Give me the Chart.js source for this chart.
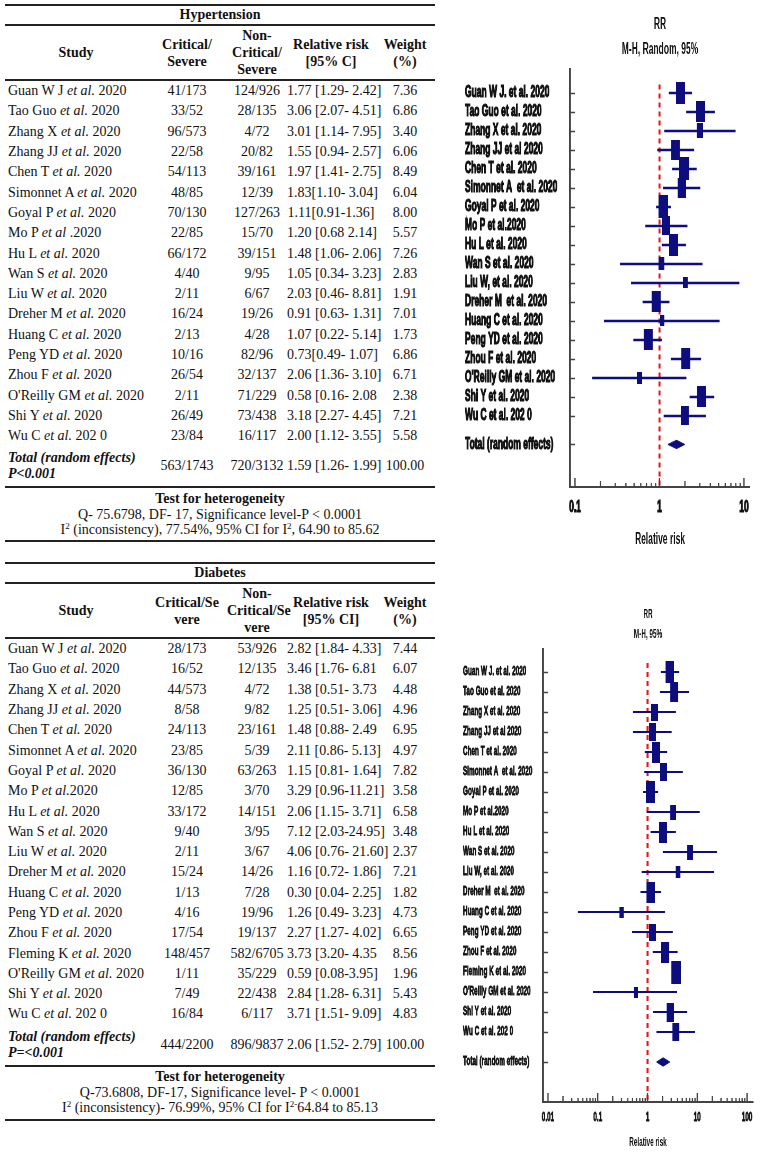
<!DOCTYPE html>
<html>
<head>
<meta charset="utf-8">
<title>Hypertension / Diabetes forest plots</title>
<script src="https://cdn.jsdelivr.net/npm/chart.js@4.4.1/dist/chart.umd.min.js"></script>
<style>
    html, body { margin: 0; padding: 0; background: #fff; }
    body { width: 767px; height: 1154px; position: relative; overflow: hidden; }

    .tbl {
        position: absolute;
        left: 5px;
        width: 430px;
        border-collapse: collapse;
        table-layout: fixed;
        font-family: "Liberation Serif", "Times New Roman", serif;
        color: #111;
    }
    .tbl td, .tbl th { padding: 0; text-align: center; white-space: nowrap; font-size: 14px; }
    .tbl .ttl th { height: 18px; line-height: 18px; border-top: 2px solid #222; border-bottom: 2px solid #222; }
    .tbl .hdr th { height: 53px; line-height: 17px; border-bottom: 2px solid #222; }
    .tbl .row td { height: 20.3px; line-height: 20px; }
    .tbl td.study { text-align: left; padding-left: 3px; }
    .tbl .tot td { height: 40px; border-bottom: 2px solid #222; }
    .tbl .tot td.study { font-weight: bold; font-style: italic; line-height: 16px; }
    .tbl .foot td { height: 52px; line-height: 15.5px; border-bottom: 2px solid #222; }
    .tbl sup { font-size: 9px; line-height: 0; vertical-align: 5px; }

    /* the original plots use a tall, condensed face: draw wide and squeeze horizontally */
    canvas { position: absolute; transform-origin: 0 0; }
</style>
</head>
<body>

<table class="tbl" id="hyperTable" style="top:4px">
    <colgroup><col style="width:142px"><col style="width:80px"><col style="width:60px"><col style="width:88px"><col style="width:60px"></colgroup>
    <tbody></tbody>
</table>

<table class="tbl" id="diabTable" style="top:562px">
    <colgroup><col style="width:142px"><col style="width:80px"><col style="width:60px"><col style="width:88px"><col style="width:60px"></colgroup>
    <tbody></tbody>
</table>

<canvas id="hyperChart"></canvas>
<canvas id="diabChart"></canvas>

<script>
// ---------- Hypertension ----------
const hyperStudies = ['Guan W J et al. 2020', 'Tao Guo et al. 2020', 'Zhang X et al. 2020', 'Zhang JJ et al. 2020',
    'Chen T et al. 2020', 'Simonnet A et al. 2020', 'Goyal P et al. 2020', 'Mo P et al .2020', 'Hu L et al. 2020',
    'Wan S et al. 2020', 'Liu W et al. 2020', 'Dreher M et al. 2020', 'Huang C et al. 2020', 'Peng YD et al. 2020',
    'Zhou F et al. 2020', "O'Reilly GM et al. 2020", 'Shi Y et al. 2020', 'Wu C et al. 202 0'];
const hyperCritical = ['41/173', '33/52', '96/573', '22/58', '54/113', '48/85', '70/130', '22/85', '66/172',
    '4/40', '2/11', '16/24', '2/13', '10/16', '26/54', '2/11', '26/49', '23/84'];
const hyperNonCritical = ['124/926', '28/135', '4/72', '20/82', '39/161', '12/39', '127/263', '15/70', '39/151',
    '9/95', '6/67', '19/26', '4/28', '82/96', '32/137', '71/229', '73/438', '16/117'];
const hyperRRText = ['1.77 [1.29- 2.42]', '3.06 [2.07- 4.51]', '3.01 [1.14- 7.95]', '1.55 [0.94- 2.57]',
    '1.97 [1.41- 2.75]', '1.83[1.10- 3.04]', '1.11[0.91-1.36]', '1.20 [0.68 2.14]', '1.48 [1.06- 2.06]',
    '1.05 [0.34- 3.23]', '2.03 [0.46- 8.81]', '0.91 [0.63- 1.31]', '1.07 [0.22- 5.14]', '0.73[0.49- 1.07]',
    '2.06 [1.36- 3.10]', '0.58 [0.16- 2.08', '3.18 [2.27- 4.45]', '2.00 [1.12- 3.55]'];
const hyperRR = [1.77, 3.06, 3.01, 1.55, 1.97, 1.83, 1.11, 1.20, 1.48, 1.05, 2.03, 0.91, 1.07, 0.73, 2.06, 0.58, 3.18, 2.00];
const hyperLo = [1.29, 2.07, 1.14, 0.94, 1.41, 1.10, 0.91, 0.68, 1.06, 0.34, 0.46, 0.63, 0.22, 0.49, 1.36, 0.16, 2.27, 1.12];
const hyperHi = [2.42, 4.51, 7.95, 2.57, 2.75, 3.04, 1.36, 2.14, 2.06, 3.23, 8.81, 1.31, 5.14, 1.07, 3.10, 2.08, 4.45, 3.55];
const hyperWeight = [7.36, 6.86, 3.40, 6.06, 8.49, 6.04, 8.00, 5.57, 7.26, 2.83, 1.91, 7.01, 1.73, 6.86, 6.71, 2.38, 7.21, 5.58];
const hyperTotal = [1.59, 1.26, 1.99];
const hyperTotalRow = ['563/1743', '720/3132', '1.59 [1.26- 1.99]', '100.00'];
const hyperPlotLabels = ['Guan W J. et al. 2020', 'Tao Guo et al. 2020', 'Zhang X et al. 2020', 'Zhang JJ et al 2020',
    'Chen T et al. 2020', 'Simonnet A  et al. 2020', 'Goyal P et al. 2020', 'Mo P et al.2020', 'Hu L et al. 2020',
    'Wan S et al. 2020', 'Liu W, et al. 2020', 'Dreher M  et al. 2020', 'Huang C et al. 2020', 'Peng YD et al. 2020',
    'Zhou F et al. 2020', "O'Reilly GM et al. 2020", 'Shi Y et al. 2020', 'Wu C et al. 202 0', 'Total (random effects)'];
const hyperTicks = [0.1, 1, 10];

// ---------- Diabetes ----------
const diabStudies = ['Guan W J et al. 2020', 'Tao Guo et al. 2020', 'Zhang X et al. 2020', 'Zhang JJ et al. 2020',
    'Chen T et al. 2020', 'Simonnet A et al. 2020', 'Goyal P et al. 2020', 'Mo P et al.2020', 'Hu L et al. 2020',
    'Wan S et al. 2020', 'Liu W et al. 2020', 'Dreher M et al. 2020', 'Huang C et al. 2020', 'Peng YD et al. 2020',
    'Zhou F et al. 2020', 'Fleming K et al. 2020', "O'Reilly GM et al. 2020", 'Shi Y et al. 2020', 'Wu C et al. 202 0'];
const diabCritical = ['28/173', '16/52', '44/573', '8/58', '24/113', '23/85', '36/130', '12/85', '33/172',
    '9/40', '2/11', '15/24', '1/13', '4/16', '17/54', '148/457', '1/11', '7/49', '16/84'];
const diabNonCritical = ['53/926', '12/135', '4/72', '9/82', '23/161', '5/39', '63/263', '3/70', '14/151',
    '3/95', '3/67', '14/26', '7/28', '19/96', '19/137', '582/6705', '35/229', '22/438', '6/117'];
const diabRRText = ['2.82 [1.84- 4.33]', '3.46 [1.76- 6.81', '1.38 [0.51- 3.73', '1.25 [0.51- 3.06]',
    '1.48 [0.88- 2.49', '2.11 [0.86- 5.13]', '1.15 [0.81- 1.64]', '3.29 [0.96-11.21]', '2.06 [1.15- 3.71]',
    '7.12 [2.03-24.95]', '4.06 [0.76- 21.60]', '1.16 [0.72- 1.86]', '0.30 [0.04- 2.25]', '1.26 [0.49- 3.23]',
    '2.27 [1.27- 4.02]', '3.73 [3.20- 4.35', '0.59 [0.08-3.95]', '2.84 [1.28- 6.31]', '3.71 [1.51- 9.09]'];
const diabRR = [2.82, 3.46, 1.38, 1.25, 1.48, 2.11, 1.15, 3.29, 2.06, 7.12, 4.06, 1.16, 0.30, 1.26, 2.27, 3.73, 0.59, 2.84, 3.71];
const diabLo = [1.84, 1.76, 0.51, 0.51, 0.88, 0.86, 0.81, 0.96, 1.15, 2.03, 0.76, 0.72, 0.04, 0.49, 1.27, 3.20, 0.08, 1.28, 1.51];
const diabHi = [4.33, 6.81, 3.73, 3.06, 2.49, 5.13, 1.64, 11.21, 3.71, 24.95, 21.60, 1.86, 2.25, 3.23, 4.02, 4.35, 3.95, 6.31, 9.09];
const diabWeight = [7.44, 6.07, 4.48, 4.96, 6.95, 4.97, 7.82, 3.58, 6.58, 3.48, 2.37, 7.21, 1.82, 4.73, 6.65, 8.56, 1.96, 5.43, 4.83];
const diabTotal = [2.06, 1.52, 2.79];
const diabTotalRow = ['444/2200', '896/9837', '2.06 [1.52- 2.79]', '100.00'];
const diabPlotLabels = ['Guan W J. et al. 2020', 'Tao Guo et al. 2020', 'Zhang X et al. 2020', 'Zhang JJ et al 2020',
    'Chen T et al. 2020', 'Simonnet A  et al. 2020', 'Goyal P et al. 2020', 'Mo P et al.2020', 'Hu L et al. 2020',
    'Wan S et al. 2020', 'Liu W, et al. 2020', 'Dreher M  et al. 2020', 'Huang C et al. 2020', 'Peng YD et al. 2020',
    'Zhou F et al. 2020', 'Fleming K et al. 2020', "O'Reilly GM et al. 2020", 'Shi Y et al. 2020', 'Wu C et al. 202 0',
    'Total (random effects)'];
const diabTicks = [0.01, 0.1, 1, 10, 100];

const NAVY = '#0d0d7e';
const RED = '#e3191c';
const AXIS = '#444';
const TEXT = '#111';
const PLOT_FONT = "'Liberation Sans', Arial, sans-serif";
const SQUEEZE = 0.53;   // horizontal scale applied to the plot canvases

// ---------- tables ----------
function italicEtAl(name) {
    return name.replace(/et al\.?/, m => '<i>' + m + '</i>');
}

function fillTable(id, t) {
    const body = document.querySelector('#' + id + ' tbody');
    let html = `<tr class="ttl"><th colspan="5">${t.title}</th></tr>`;
    html += `<tr class="hdr">${t.header.map(h => `<th>${h}</th>`).join('')}</tr>`;
    t.studies.forEach((s, i) => {
        html += `<tr class="row"><td class="study">${italicEtAl(s)}</td><td>${t.critical[i]}</td>` +
            `<td>${t.nonCritical[i]}</td><td>${t.rrText[i]}</td><td>${t.weight[i].toFixed(2)}</td></tr>`;
    });
    html += `<tr class="tot"><td class="study">Total (random effects)<br>${t.pText}</td>` +
        t.totalRow.map(v => `<td>${v}</td>`).join('') + '</tr>';
    html += `<tr class="foot"><td colspan="5"><b>Test for heterogeneity</b><br>${t.foot[0]}<br>${t.foot[1]}</td></tr>`;
    body.innerHTML = html;
}

fillTable('hyperTable', {
    title: 'Hypertension',
    header: ['Study', 'Critical/<br>Severe', 'Non-<br>Critical/<br>Severe', 'Relative risk<br>[95% C]', 'Weight<br>(%)'],
    studies: hyperStudies, critical: hyperCritical, nonCritical: hyperNonCritical,
    rrText: hyperRRText, weight: hyperWeight, totalRow: hyperTotalRow, pText: 'P&lt;0.001',
    foot: ['Q- 75.6798, DF- 17, Significance level-P &lt; 0.0001',
        'I<sup>2</sup> (inconsistency), 77.54%, 95% CI for I<sup>2</sup>, 64.90 to 85.62']
});

fillTable('diabTable', {
    title: 'Diabetes',
    header: ['Study', 'Critical/Se<br>vere', 'Non-<br>Critical/Se<br>vere', 'Relative risk<br>[95% CI]', 'Weight<br>(%)'],
    studies: diabStudies, critical: diabCritical, nonCritical: diabNonCritical,
    rrText: diabRRText, weight: diabWeight, totalRow: diabTotalRow, pText: 'P=&lt;0.001',
    foot: ['Q-73.6808, DF-17, Significance level- P &lt; 0.0001',
        'I<sup>2</sup> (inconsistency)- 76.99%, 95% CI for I<sup>2-</sup>64.84 to 85.13']
});

// ---------- forest plots ----------
// small ticks drawn inside the plot area (the axis style of the original)
const innerTicks = {
    id: 'innerTicks',
    afterDatasetsDraw(chart, args, opts) {
        const {ctx, chartArea: a, scales: {x, y}} = chart;
        ctx.save();
        ctx.strokeStyle = AXIS;
        ctx.beginPath();
        ctx.lineWidth = 1.5;
        opts.rows.forEach(v => {
            const py = Math.round(y.getPixelForValue(v)) + 0.5;
            ctx.moveTo(a.left, py);
            ctx.lineTo(a.left + opts.yLen, py);
        });
        ctx.stroke();
        ctx.beginPath();
        ctx.lineWidth = 1.3 / SQUEEZE;
        const first = Math.round(Math.log10(opts.ticks[0]));
        const last = Math.round(Math.log10(opts.ticks[opts.ticks.length - 1]));
        for (let e = first; e <= last; e++) {
            for (let m = 1; m <= 9; m++) {
                if (e === last && m > 1) break;
                const px = x.getPixelForValue(m * Math.pow(10, e));
                const len = m === 1 ? opts.major : (m === 2 ? opts.mid : opts.minor);
                ctx.moveTo(px, a.bottom);
                ctx.lineTo(px, a.bottom - len);
            }
        }
        ctx.stroke();
        ctx.restore();
    }
};

function buildForest(canvasId, p) {
    // page geometry (px on the page) -> canvas units before the squeeze
    const canvas = document.getElementById(canvasId);
    const innerW = Math.round(p.width / SQUEEZE);
    canvas.width = innerW;
    canvas.height = p.height;
    canvas.style.left = p.left + 'px';
    canvas.style.top = p.top + 'px';
    canvas.style.transform = `scaleX(${SQUEEZE})`;
    const padLeft = (p.labelLeft - p.left) / SQUEEZE;
    const yWidth = (p.axisLeft - p.labelLeft) / SQUEEZE;
    const padRight = innerW - (p.axisRight - p.left) / SQUEEZE;

    const rows = p.rr.map((v, i) => i);
    const totalRow = p.rr.length + 0.5;
    const tickRows = rows.concat([totalRow]);

    // CI whiskers as one broken line
    const ciPoints = [];
    p.lo.forEach((lo, i) => {
        ciPoints.push({x: lo, y: i}, {x: p.hi[i], y: i}, {x: null, y: null});
    });

    // weight-sized boxes
    const boxImages = p.weight.map(w => {
        const c = document.createElement('canvas');
        c.width = Math.max(4, Math.round(p.boxW * Math.sqrt(w) / SQUEEZE));
        c.height = Math.round(p.boxH * Math.sqrt(w));
        const g = c.getContext('2d');
        g.fillStyle = NAVY;
        g.fillRect(0, 0, c.width, c.height);
        return c;
    });

    const [tRR, tLo, tHi] = p.total;
    const diamond = [
        {x: tLo, y: totalRow}, {x: tRR, y: totalRow - p.diamond},
        {x: tHi, y: totalRow}, {x: tRR, y: totalRow + p.diamond}, {x: tLo, y: totalRow}
    ];

    return new Chart(canvas.getContext('2d'), {
        type: 'scatter',
        data: {
            datasets: [
                {
                    // line of no effect
                    data: [{x: 1, y: -0.45}, {x: 1, y: p.yMax}],
                    showLine: true,
                    borderColor: RED,
                    borderWidth: 2 / SQUEEZE,
                    borderDash: [5, 4],
                    pointRadius: 0,
                    order: 4
                },
                {
                    data: ciPoints,
                    showLine: true,
                    spanGaps: false,
                    borderColor: NAVY,
                    borderWidth: p.ciWidth,
                    pointRadius: 0,
                    order: 3
                },
                {
                    data: diamond,
                    showLine: true,
                    fill: 'shape',
                    backgroundColor: NAVY,
                    borderColor: NAVY,
                    borderWidth: 1,
                    pointRadius: 0,
                    order: 2
                },
                {
                    data: p.rr.map((v, i) => ({x: v, y: i})),
                    pointStyle: c => boxImages[c.dataIndex],
                    pointRadius: 5,
                    order: 1
                }
            ]
        },
        options: {
            responsive: false,
            animation: false,
            layout: {padding: {left: padLeft, right: padRight, top: 0, bottom: 0}},
            scales: {
                x: {
                    type: 'logarithmic',
                    position: 'bottom',
                    min: p.xMin,
                    max: p.xMax,
                    bounds: 'data',
                    grid: {display: false, drawTicks: false},
                    border: {display: true, color: AXIS, width: 2},
                    afterBuildTicks: s => { s.ticks = p.xTicks.map(v => ({value: v})); },
                    afterFit: s => { s.height = p.bottomH; },
                    ticks: {
                        autoSkip: false,
                        maxRotation: 0,
                        padding: p.tickPad,
                        color: TEXT,
                        textStrokeColor: TEXT,
                        textStrokeWidth: p.stroke,
                        font: {family: PLOT_FONT, size: p.fontSize, weight: 'bold'},
                        callback: v => String(v)
                    },
                    title: {
                        display: true,
                        text: 'Relative risk',
                        color: TEXT,
                        font: {family: PLOT_FONT, size: p.fontSize, weight: 'bold'},
                        padding: {top: 0, bottom: p.axisTitlePad}
                    }
                },
                x2: {
                    type: 'linear',
                    position: 'top',
                    min: 0,
                    max: 1,
                    grid: {display: false, drawTicks: false},
                    border: {display: false},
                    ticks: {display: false},
                    afterFit: s => { s.height = p.topH; },
                    title: {
                        display: true,
                        text: p.title,
                        color: TEXT,
                        font: {family: PLOT_FONT, size: p.fontSize, weight: 'bold', lineHeight: p.titleLH},
                        padding: {top: p.titlePad, bottom: 0}
                    }
                },
                y: {
                    type: 'linear',
                    reverse: true,
                    min: p.yMin,
                    max: p.yMax,
                    bounds: 'data',
                    grid: {display: false, drawTicks: false},
                    border: {display: true, color: AXIS, width: 2 / SQUEEZE},
                    afterBuildTicks: s => { s.ticks = tickRows.map(v => ({value: v})); },
                    afterFit: s => { s.width = yWidth; },
                    ticks: {
                        autoSkip: false,
                        crossAlign: 'far',
                        color: TEXT,
                        textStrokeColor: TEXT,
                        textStrokeWidth: p.stroke,
                        font: {family: PLOT_FONT, size: p.fontSize, weight: 'bold'},
                        callback: (v, i) => p.labels[i]
                    }
                }
            },
            plugins: {
                legend: {display: false},
                tooltip: {enabled: false},
                innerTicks: {rows: tickRows, ticks: p.xTicks, yLen: 5 / SQUEEZE, major: 9, mid: 6, minor: 4}
            }
        },
        plugins: [innerTicks]
    });
}

buildForest('hyperChart', {
    rr: hyperRR, lo: hyperLo, hi: hyperHi, weight: hyperWeight, total: hyperTotal,
    labels: hyperPlotLabels, xTicks: hyperTicks, title: ['RR', 'M-H, Random, 95%'],
    left: 455, top: 0, width: 312, height: 557,
    labelLeft: 465, axisLeft: 570, axisRight: 750,
    xMin: 0.0873, xMax: 11.78, yMin: -1.21, yMax: 20.74,
    topH: 70, bottomH: 70,
    fontSize: 16, titleLH: 1.5625, titlePad: 12.5,
    tickPad: 11.4, axisTitlePad: 7.4, stroke: 1.2,
    ciWidth: 2.5, boxW: 3.4, boxH: 8, diamond: 0.22
});

buildForest('diabChart', {
    rr: diabRR, lo: diabLo, hi: diabHi, weight: diabWeight, total: diabTotal,
    labels: diabPlotLabels, xTicks: diabTicks, title: ['RR', 'M-H, 95%'],
    left: 453, top: 590, width: 314, height: 564,
    labelLeft: 463, axisLeft: 543, axisRight: 753,
    xMin: 0.00793, xMax: 132, yMin: -1.1, yMax: 21.5,
    topH: 60, bottomH: 52,
    fontSize: 12, titleLH: 1.667, titlePad: 15,
    tickPad: 8.8, axisTitlePad: 3.8, stroke: 0.8,
    ciWidth: 2, boxW: 3.2, boxH: 8, diamond: 0.21
});
</script>
</body>
</html>
